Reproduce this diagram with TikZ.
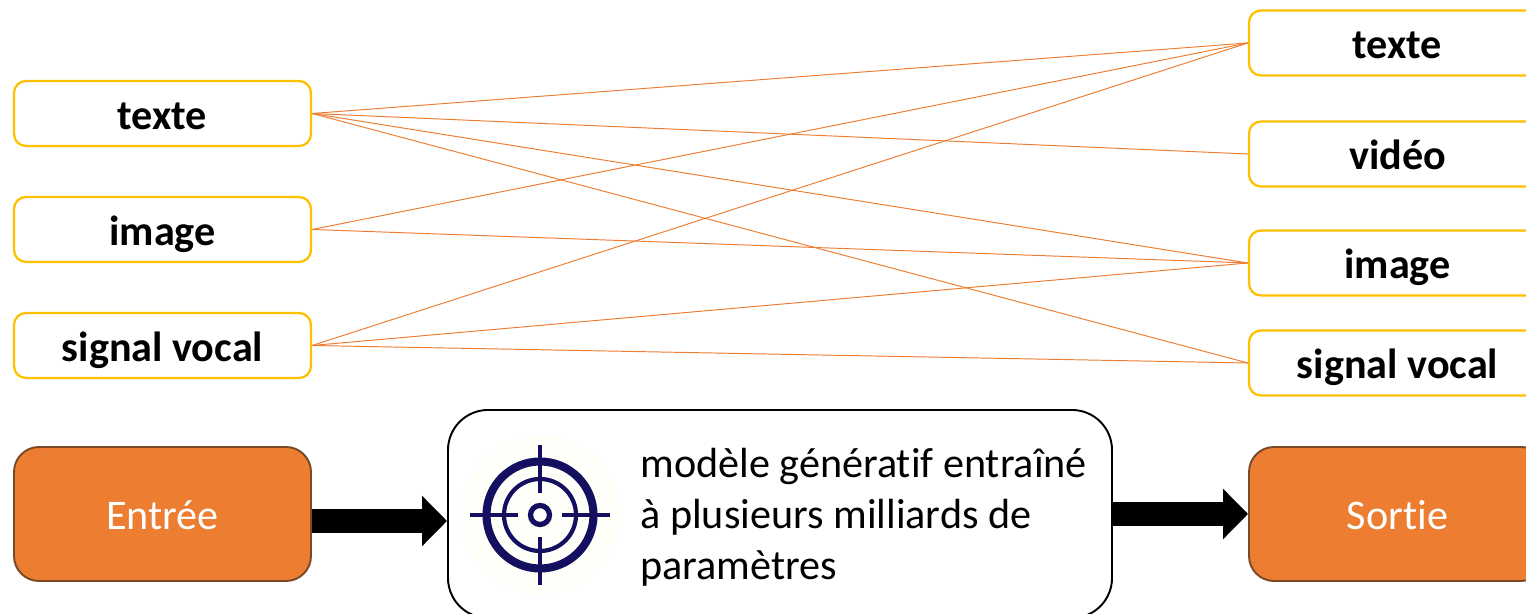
\documentclass[tikz,border=0pt]{standalone}
\usepackage{fontspec}
\setmainfont[RawFeature=-liga]{Carlito}
\usetikzlibrary{arrows.meta}
\definecolor{boxyellow}{HTML}{FFC000}
\definecolor{boxorange}{HTML}{ED7D31}
\definecolor{boxbrown}{HTML}{7A4A28}
\definecolor{targetblue}{HTML}{14105F}
\begin{document}
\begin{tikzpicture}[
   typebox/.style={draw=boxyellow, line width=1.3pt, fill=white, rounded corners=0.24cm, minimum width=5.94cm, minimum height=1.3cm, inner sep=0pt, text height=0.84cm, text depth=0.2cm, font=\fontsize{24}{28}\selectfont\bfseries},
   endbox/.style={draw=boxbrown, line width=1.1pt, fill=boxorange, rounded corners=0.5cm, minimum width=5.94cm, minimum height=2.68cm, inner sep=0pt, text height=0.84cm, text depth=0.2cm, text=white, font=\fontsize{24}{28}\selectfont},
   modelbox/.style={draw=black, line width=1.1pt, fill=white, rounded corners=0.8cm, minimum width=13.28cm, minimum height=4.16cm, inner sep=0pt},
   link/.style={draw=boxorange, line width=0.55pt},
   bigarrow/.style={draw=black, line width=0.48cm, -{Triangle[length=0.5cm,width=0.98cm]}},
   ring/.style={draw=targetblue}
]
   \useasboundingbox (0,0) rectangle (30.52,12.28);
   \clip (0,0) rectangle (30.52,12.28);
   % Input types
   \node[typebox] (intexte) at (3.25,10.01) {texte};
   \node[typebox] (inimage) at (3.25,7.69) {image};
   \node[typebox] (invocal) at (3.25,5.37) {signal vocal};
   % Output types
   \node[typebox] (outtexte) at (27.95,11.42) {texte};
   \node[typebox] (outvideo) at (27.95,9.20) {vidéo};
   \node[typebox] (outimage) at (27.95,7.02) {image};
   \node[typebox] (outvocal) at (27.95,5.02) {signal vocal};
   % Links between types
   \draw[link] (intexte.east) -- (outtexte.west);
   \draw[link] (intexte.east) -- (outvideo.west);
   \draw[link] (intexte.east) -- (outimage.west);
   \draw[link] (intexte.east) -- (outvocal.west);
   \draw[link] (inimage.east) -- (outtexte.west);
   \draw[link] (inimage.east) -- (outimage.west);
   \draw[link] (invocal.east) -- (outtexte.west);
   \draw[link] (invocal.east) -- (outimage.west);
   \draw[link] (invocal.east) -- (outvocal.west);
   % Bottom row
   \node[endbox] (entree) at (3.25,2.0) {Entrée};
   \node[modelbox] (modele) at (15.6,2.0) {};
   \node[endbox] (sortie) at (27.95,2.0) {Sortie};
   \node[anchor=west, align=left, inner sep=0pt, font=\fontsize{24}{29}\selectfont] (legende) at (12.8,1.94) {modèle génératif entraîné\\à plusieurs milliards de\\paramètres};
   \draw[bigarrow] ([yshift=-0.14cm]entree.east) -- ([yshift=-0.14cm]modele.west);
   \draw[bigarrow] (modele.east) -- (sortie.west);
   % Target icon
   \fill[yellow!2] (10.8,1.98) circle [radius=1.6];
   \draw[ring, line width=4.6pt] (10.8,1.98) circle [radius=1.07];
   \draw[ring, line width=2.4pt] (10.8,1.98) circle [radius=0.72];
   \draw[ring, line width=3pt] (10.8,1.98) circle [radius=0.19];
   \foreach \a in {0,90,180,270}
      \draw[ring, line width=2.2pt] (10.8,1.98) ++(\a:0.44) -- ++(\a:0.96);
\end{tikzpicture}
\end{document}
